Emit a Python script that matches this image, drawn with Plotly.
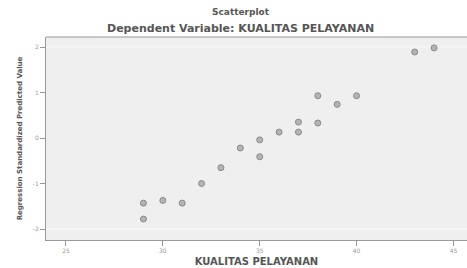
import plotly.graph_objects as go

kualitas = [29, 29, 30, 31, 32, 33, 34, 35, 35, 36, 37, 37, 38, 38, 39, 40, 43, 44]
predicted = [-1.78, -1.43, -1.37, -1.43, -1.0, -0.65, -0.22, -0.41, -0.04, 0.13, 0.13, 0.35, 0.33, 0.93, 0.74, 0.93, 1.89, 1.98]
x_ticks = [25, 30, 35, 40, 45]
y_ticks = [-2, -1, 0, 1, 2]

fig = go.Figure()
fig.add_trace(go.Scatter(
    x=kualitas, y=predicted, mode="markers",
    marker=dict(symbol="circle", size=6, color="#b4b4b4", line=dict(color="#8a8a8a", width=1)),
    showlegend=False,
))

for yv in [2, -2]:
    fig.add_shape(type="line", xref="paper", x0=0, x1=1, yref="y", y0=yv, y1=yv,
                  line=dict(color="#fafafa", width=1), layer="below")

fig.update_layout(
    width=467, height=268,
    margin=dict(l=46, r=0, t=37, b=28),
    paper_bgcolor="white",
    plot_bgcolor="#efefef",
    font=dict(family="DejaVu Sans, sans-serif", color="#333"),
    annotations=[
        dict(text="<b>Scatterplot</b>", xref="paper", yref="paper", x=0.463, y=1,
             yshift=25, showarrow=False, font=dict(size=9, color="#555"), xanchor="center", yanchor="middle"),
        dict(text="<b>Dependent Variable: KUALITAS PELAYANAN</b>", xref="paper", yref="paper", x=0.463, y=1,
             yshift=9, showarrow=False, font=dict(size=11, color="#555"), xanchor="center", yanchor="middle"),
    ],
    xaxis=dict(
        range=[23.97, 45.7], tickvals=x_ticks, ticktext=[str(v) for v in x_ticks],
        showgrid=False, zeroline=False, showline=True, linecolor="#999", linewidth=1,
        ticks="outside", ticklen=5, tickcolor="#999", tickfont=dict(size=6, color="#999"),
        title=dict(text="<b>KUALITAS PELAYANAN</b>", font=dict(size=10, color="#555"), standoff=4),
        automargin=False,
    ),
    yaxis=dict(
        range=[-2.24, 2.22], tickvals=y_ticks, ticktext=[str(v) for v in y_ticks],
        showgrid=False, zeroline=False, showline=True, linecolor="#999", linewidth=1,
        ticks="outside", ticklen=5, tickcolor="#999", tickfont=dict(size=6, color="#999"),
        title=dict(text="<b>Regression Standardized Predicted Value</b>", font=dict(size=7, color="#555"), standoff=9),
        automargin=False,
    ),
)
fig.add_shape(type="line", xref="paper", x0=0, x1=1, yref="paper", y0=1, y1=1,
              line=dict(color="#999", width=1))

fig.write_html("out.html", config={"displayModeBar": False},
               post_script="document.body.style.margin='0';document.body.style.overflow='hidden';")
